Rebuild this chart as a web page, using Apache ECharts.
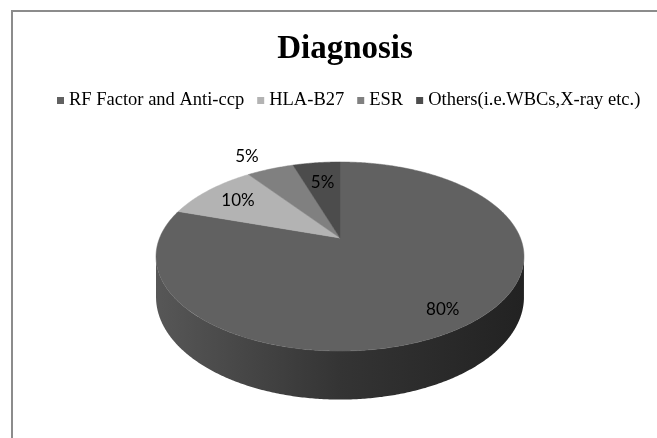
<!DOCTYPE html>
<html><head><meta charset="utf-8">
<script src="https://cdn.jsdelivr.net/npm/echarts@6/dist/echarts.min.js"></script>
<style>html,body{margin:0;padding:0;background:#fff}#c{width:657px;height:438px}</style>
</head><body><div id="c"></div>
<script>
const categories = ['RF Factor and Anti-ccp', 'HLA-B27', 'ESR', 'Others(i.e.WBCs,X-ray etc.)'];
const values = [80, 10, 5, 5];
const labelTexts = ['80%', '10%', '5%', '5%'];
const colors = ['#616161', '#b3b3b3', '#808080', '#4c4c4c'];

const chart = echarts.init(document.getElementById('c'), null, { renderer: 'canvas' });
const total = values.reduce((s, v) => s + v, 0);
const starts = [];
let acc = 0;
values.forEach(v => { starts.push(acc / total * 360); acc += v; });

// 3D projection geometry (layout)
const G = { cx: 340, cy: 238, a: 180.4, b: 90.9, k: 0.196, h: 39 };
const labelLayout = [{ r: 0.84, d: 0 }, { r: 0.76, d: 0 }, { r: 1.25, d: -3 }, { r: 0.7, d: 0 }];
function proj(deg, r, depth) {
  const t = deg * Math.PI / 180, s = Math.sin(t), c = Math.cos(t);
  const den = 1 + G.k * r * c;
  return [G.cx + G.a * r * s / den, G.cy - G.b * r * c / den + depth * G.h / den];
}
const thR = Math.acos(-G.k) * 180 / Math.PI, thL = 360 - thR;

function renderItem(params, api) {
  const i = params.seriesIndex;
  const start = starts[i];
  const end = start + api.value(0) / total * 360;
  const children = [];
  const lo = Math.max(start, thR), hi = Math.min(end, thL);
  if (lo < hi) {
    const pts = [];
    for (let t = lo; t <= hi + 1e-9; t += 0.5) pts.push(proj(Math.min(t, hi), 1, 0));
    for (let t = hi; t >= lo - 1e-9; t -= 0.5) pts.push(proj(Math.max(t, lo), 1, 1));
    children.push({
      type: 'polygon', shape: { points: pts },
      style: { fill: { type: 'linear', x: 0, y: 0, x2: 1, y2: 0, colorStops: [
        { offset: 0, color: '#575757' }, { offset: 0.5, color: '#343434' }, { offset: 1, color: '#222222' } ] } }
    });
  }
  const top = [proj(0, 0, 0)];
  for (let t = start; t <= end + 1e-9; t += 0.5) top.push(proj(Math.min(t, end), 1, 0));
  top.push(proj(end, 1, 0));
  children.push({ type: 'polygon', shape: { points: top }, style: { fill: colors[i], stroke: colors[i], lineWidth: 0.5 } });
  const L = labelLayout[i];
  const p = proj((start + end) / 2 + L.d, L.r, 0);
  children.push({ type: 'text', style: { text: labelTexts[i], x: p[0], y: p[1], align: 'center', verticalAlign: 'middle',
    font: '17px Lato', fill: '#000' } });
  return { type: 'group', children };
}

chart.setOption({
  animation: false,
  title: { text: 'Diagnosis', left: 340, top: 28, textAlign: 'center',
    textStyle: { fontFamily: 'Liberation Serif', fontWeight: 'bold', fontSize: 33, color: '#000' } },
  legend: { left: 52, top: 86, icon: 'rect', itemWidth: 7, itemHeight: 7, itemGap: 13,
    textStyle: { fontFamily: 'Liberation Serif', fontSize: 18.5, color: '#000' }, data: categories },
  graphic: [{ type: 'rect', shape: { x: 12, y: 11, width: 700, height: 500 }, style: { fill: 'none', stroke: '#8c8c8c', lineWidth: 2 }, silent: true }],
  series: categories.map((name, i) => ({
    type: 'custom', name, coordinateSystem: 'none', renderItem,
    itemStyle: { color: colors[i] }, data: [[values[i]]]
  }))
});
</script></body></html>
